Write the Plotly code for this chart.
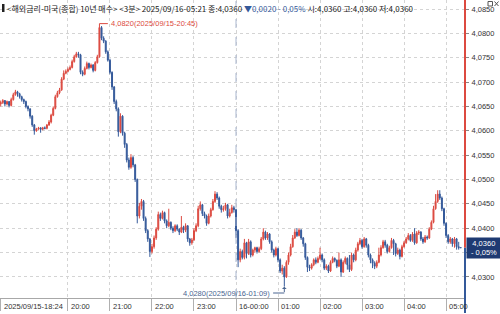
import plotly.graph_objects as go
import pandas as pd

# ---- data (prices in 1/10000 units above 4.0000) ----
start_time = "2025-09-15 18:24"
first_open_bp = 655
close_bp = [
    658, 662, 655, 660, 652, 664, 674, 680, 676, 670,
    664, 660, 650, 645, 630, 612, 600, 604, 606, 603,
    606, 605, 612, 618, 632, 646, 670, 678, 684, 706,
    718, 722, 726, 730, 742, 752, 758, 756, 720, 716,
    728, 738, 730, 735, 724, 740, 752, 812, 790, 784,
    762, 745, 720, 690, 660, 645, 598, 630, 595, 572,
    540, 525, 545, 530, 500, 425, 445, 455, 420, 395,
    378, 352, 362, 380, 398, 428, 420, 432, 415, 405,
    412, 400, 395, 405, 398, 392, 402, 396, 405, 378,
    370, 376, 395, 405, 440, 448, 430, 425, 410, 425,
    438, 455, 470, 462, 445, 438, 440, 448, 425, 432,
    442, 438, 395, 335, 352, 340, 370, 348, 372, 345,
    355, 360, 352, 358, 378, 392, 380, 388, 372, 355,
    345, 358, 335, 312, 318, 300, 330, 345, 362, 380,
    392, 385, 396, 380, 368, 340, 320, 318, 325, 335,
    330, 338, 345, 335, 318, 322, 312, 330, 338, 334,
    322, 335, 310, 330, 338, 325, 315, 345, 335, 355,
    368, 375, 362, 378, 365, 345, 335, 328, 322, 330,
    345, 360, 372, 365, 352, 360, 375, 368, 348, 355,
    342, 362, 370, 378, 385, 375, 388, 370, 390, 392,
    378, 372, 382, 380, 398, 412, 440, 455, 470, 462,
    440, 410, 385, 372, 378, 368, 378, 362, 360, 360,
]
high_bp = [
    662, 665, 663, 662, 661, 668, 678, 684, 682, 678,
    672, 666, 662, 652, 646, 632, 614, 606, 608, 607,
    608, 609, 614, 622, 635, 650, 674, 682, 688, 710,
    724, 726, 730, 734, 746, 756, 762, 762, 758, 724,
    732, 742, 740, 738, 737, 743, 756, 820, 815, 794,
    786, 765, 748, 722, 692, 664, 648, 636, 632, 598,
    575, 545, 552, 548, 532, 502, 452, 460, 458, 424,
    398, 380, 368, 385, 402, 434, 432, 436, 434, 418,
    440, 414, 404, 408, 408, 400, 425, 405, 410, 406,
    380, 380, 400, 410, 446, 455, 450, 434, 428, 430,
    442, 460, 476, 474, 465, 448, 446, 452, 450, 440,
    448, 446, 440, 398, 358, 356, 378, 372, 378, 375,
    358, 362, 362, 362, 382, 400, 395, 392, 390, 375,
    358, 362, 360, 338, 325, 322, 334, 350, 368, 386,
    398, 400, 400, 398, 382, 370, 342, 325, 328, 338,
    340, 342, 360, 348, 338, 326, 325, 334, 342, 340,
    336, 350, 338, 334, 342, 340, 345, 350, 348, 360,
    372, 380, 378, 382, 380, 368, 348, 338, 332, 334,
    360, 365, 376, 376, 368, 364, 380, 378, 370, 360,
    358, 366, 374, 382, 390, 388, 392, 400, 394, 396,
    394, 382, 386, 385, 402, 416, 446, 470, 478, 478,
    465, 442, 412, 388, 382, 380, 382, 380, 372, 360,
]
low_bp = [
    650, 655, 650, 652, 648, 650, 662, 672, 670, 666,
    660, 655, 646, 640, 625, 608, 592, 598, 602, 596,
    601, 603, 603, 610, 615, 630, 644, 668, 675, 682,
    704, 716, 720, 724, 728, 740, 750, 750, 716, 712,
    714, 726, 726, 728, 720, 722, 738, 750, 786, 780,
    758, 742, 716, 684, 655, 640, 588, 595, 590, 565,
    535, 520, 522, 525, 495, 410, 420, 438, 415, 390,
    372, 341, 348, 358, 376, 395, 415, 418, 410, 400,
    402, 396, 390, 392, 394, 386, 390, 390, 392, 372,
    364, 366, 374, 392, 402, 436, 425, 420, 405, 408,
    422, 436, 452, 458, 440, 432, 434, 436, 420, 422,
    430, 432, 380, 320, 330, 336, 336, 338, 345, 340,
    342, 350, 348, 350, 355, 375, 376, 376, 368, 350,
    340, 342, 330, 308, 305, 280, 298, 325, 342, 360,
    378, 382, 383, 376, 362, 335, 310, 312, 315, 322,
    326, 328, 335, 330, 314, 314, 308, 310, 328, 330,
    318, 320, 300, 308, 326, 315, 310, 312, 330, 332,
    352, 365, 358, 360, 360, 340, 328, 318, 316, 318,
    328, 342, 358, 360, 348, 350, 358, 345, 342, 345,
    336, 340, 360, 368, 375, 372, 372, 366, 368, 386,
    374, 368, 370, 376, 378, 396, 410, 438, 452, 458,
    435, 405, 380, 368, 368, 362, 360, 356, 356, 360,
]
tick_times = ["2025-09-15 18:24", "2025-09-15 20:00", "2025-09-15 21:00", "2025-09-15 22:00",
              "2025-09-15 23:00", "2025-09-16 00:00", "2025-09-16 01:00", "2025-09-16 02:00",
              "2025-09-16 03:00", "2025-09-16 04:00", "2025-09-16 05:00"]
tick_labels = ["2025/09/15-18:24", "20:00", "21:00", "22:00", "23:00", "16-00:00",
               "01:00", "02:00", "03:00", "04:00", "05:00"]
y_ticks = [4.030, 4.035, 4.040, 4.045, 4.050, 4.055, 4.060, 4.065, 4.070, 4.075, 4.080, 4.085]
header_main = "<해외금리-미국(종합) 10년 매수> <3분> 2025/09/16-05:21 종:4,0360 "
header_change = "▼0,0020 - 0,05%"
header_tail = " 시:4,0360 고:4,0360 저:4,0360"
last_price = 4.0360
last_change = "- 0,05%"
peak_idx, peak_text = 47, "4,0820(2025/09/15-20:45)"
low_idx, low_text = 135, "4,0280(2025/09/16-01:09)"

# ---- build ----
to_p = lambda v: 4 + v / 10000.0
close = [to_p(v) for v in close_bp]
high = [to_p(v) for v in high_bp]
low = [to_p(v) for v in low_bp]
open_ = [to_p(first_open_bp)] + close[:-1]
times = pd.date_range(start_time, periods=len(close), freq="3min")

RED = "#dc4a40"
BLUE = "#34599a"
GRID = "#d4d4d4"
FONT = "Liberation Sans"

Y0, Y1 = 4.02567, 4.08685
t0 = pd.Timestamp(start_time)
x_range = [t0 - pd.Timedelta(minutes=1), t0 + pd.Timedelta(minutes=663)]

fig = go.Figure(go.Candlestick(
    x=times, open=open_, high=high, low=low, close=close,
    increasing=dict(line=dict(color=RED, width=1), fillcolor=RED),
    decreasing=dict(line=dict(color=BLUE, width=1), fillcolor=BLUE),
    whiskerwidth=0, hoverinfo="skip",
))

# hide the tick label that the last-price badge covers
y_ticktext = []
for v in y_ticks:
    lab = f"{v:.4f}".replace(".", ",")
    y_ticktext.append("" if abs(v - 4.035) < 1e-9 else lab)

fig.update_layout(
    width=500, height=314,
    margin=dict(l=0, r=35, t=0, b=16),
    paper_bgcolor="white", plot_bgcolor="white",
    showlegend=False, separators=",.",
    font=dict(family=FONT, size=8, color="#333"),
    boxgap=0.35,
    xaxis=dict(
        type="date", range=x_range, rangeslider=dict(visible=False),
        tickvals=pd.to_datetime(tick_times), showticklabels=False,
        showgrid=True, gridcolor=GRID, griddash="dot", gridwidth=1,
        ticks="outside", ticklen=12, tickcolor="#b0b0b0",
        showline=True, linecolor="#a8a8a8", zeroline=False,
    ),
    yaxis=dict(
        side="right", range=[Y0, Y1],
        tickvals=y_ticks, ticktext=y_ticktext,
        tickfont=dict(size=7.5, color="#333", family=FONT),
        showgrid=True, gridcolor=GRID, griddash="dot", gridwidth=1,
        ticks="outside", ticklen=3, tickcolor="#888", ticklabelstandoff=1,
        zeroline=False, showline=False,
    ),
)

shapes = []
# right axis line: red above last price, blue below
shapes.append(dict(type="line", xref="paper", x0=1, x1=1, yref="y", y0=last_price, y1=Y1,
                   line=dict(color=RED, width=2)))
shapes.append(dict(type="line", xref="paper", x0=1, x1=1, yref="paper", y0=-0.05,
                   y1=(last_price - Y0) / (Y1 - Y0), line=dict(color=BLUE, width=2)))
# day separator
shapes.append(dict(type="line", xref="x", x0=pd.Timestamp(tick_times[5]), x1=pd.Timestamp(tick_times[5]),
                   yref="paper", y0=0, y1=1, line=dict(color="#a9b6cf", width=1, dash="dash")))
# header block marker
shapes.append(dict(type="rect", xref="paper", yref="paper", x0=2 / 465, x1=4.5 / 465,
                   y0=1 - 12 / 298, y1=1 - 4 / 298, fillcolor="#222", line=dict(width=0)))
# window icons (restore box and close cross) drawn as small marks in the top-right corner
pw = 465.0
shapes.append(dict(type="rect", xref="paper", yref="paper", x0=(488 - 0) / pw, x1=(492.5) / pw,
                   y0=1 - 6 / 298, y1=1 - 1.5 / 298, line=dict(color="#555", width=1), fillcolor="white"))
shapes.append(dict(type="line", xref="paper", yref="paper", x0=494.5 / pw, x1=498.5 / pw,
                   y0=1 - 6 / 298, y1=1 - 1.5 / 298, line=dict(color="#555", width=1)))
shapes.append(dict(type="line", xref="paper", yref="paper", x0=494.5 / pw, x1=498.5 / pw,
                   y0=1 - 1.5 / 298, y1=1 - 6 / 298, line=dict(color="#555", width=1)))
# peak leader
px = times[peak_idx]
shapes.append(dict(type="line", xref="x", yref="y", x0=px, x1=px + pd.Timedelta(minutes=12),
                   y0=high[peak_idx], y1=high[peak_idx], line=dict(color=RED, width=1)))
# low leader
lx = times[low_idx]
y_low_line = Y0 + (Y1 - Y0) * (5.0 / 298)
shapes.append(dict(type="line", xref="x", yref="y", x0=lx - pd.Timedelta(minutes=16), x1=lx,
                   y0=y_low_line, y1=y_low_line, line=dict(color="#4a6590", width=1)))

ann = []
for t, lab in zip(tick_times, tick_labels):
    ann.append(dict(x=pd.Timestamp(t), xref="x", y=0, yref="paper", yanchor="top", xanchor="left",
                    xshift=1, yshift=-2, text=lab, showarrow=False,
                    font=dict(size=7.5, color="#333", family=FONT)))
ann.append(dict(x=0, xref="paper", y=1, yref="paper", xanchor="left", yanchor="top", xshift=5, yshift=-1,
                text=(header_main.replace("<", "&lt;").replace(">", "&gt;")
                      + f"<span style='color:{BLUE}'>{header_change}</span>" + header_tail),
                showarrow=False, font=dict(size=8, color="#222", family="Noto Sans CJK KR")))
ann.append(dict(x=px + pd.Timedelta(minutes=13), xref="x", y=high[peak_idx], yref="y",
                xanchor="left", yanchor="middle", text=peak_text, showarrow=False,
                font=dict(size=7.5, color=RED, family=FONT)))
ann.append(dict(x=lx - pd.Timedelta(minutes=17), xref="x", y=y_low_line, yref="y",
                xanchor="right", yanchor="middle", text=low_text, showarrow=False,
                font=dict(size=7.5, color="#4a6590", family=FONT)))
ann.append(dict(x=lx, xref="x", y=low[low_idx], yref="y", ax=0, ay=7, axref="pixel", ayref="pixel",
                text="", showarrow=True, arrowhead=1, arrowsize=0.8, arrowwidth=1, arrowcolor="#4a6590",
                standoff=0))
ann.append(dict(x=1, xref="paper", y=last_price, yref="y", xanchor="left", yanchor="middle", xshift=1,
                text=f"{last_price:.4f}".replace(".", ",") + "<br>" + last_change,
                showarrow=False, bgcolor="#1e3a72", borderpad=1, width=32, height=18,
                font=dict(size=7.5, color="white", family=FONT)))

fig.update_layout(shapes=shapes, annotations=ann)
fig.write_html("out.html")
